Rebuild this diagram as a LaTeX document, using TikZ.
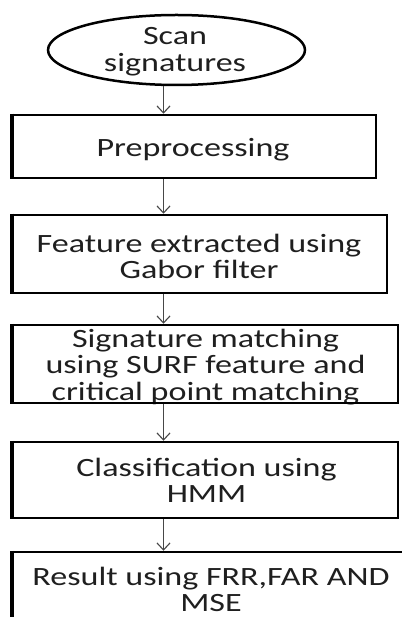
\documentclass[tikz,border=0pt]{standalone}
\usepackage{fontspec}
\usetikzlibrary{shapes.geometric,arrows.meta}
\newfontfamily\boxfont[FakeStretch=1.29]{Carlito}

\tikzset{
  stepbox/.style={draw=black, line width=2.5pt, rectangle, inner sep=0pt},
  heavyedge/.style={draw=black, line width=3.8pt},
  startoval/.style={draw=black, line width=2.5pt, ellipse, inner sep=0pt,
    minimum width=257pt, minimum height=70pt},
  boxtext/.style={font=\boxfont\fontsize{26.4}{26.5}\selectfont, align=center,
    inner sep=0pt, text=black!88},
  flow/.style={draw=black!72, line width=1.1pt,
    -{Straight Barb[length=7pt,width=13pt]}},
}

\begin{document}
\begin{tikzpicture}[x=1pt,y=-1pt]
  \useasboundingbox (0,0) rectangle (401,617);
  \fill[white] (0,0) rectangle (401,617);

  % vertical line that all connectors follow
  \coordinate (spine) at (163.5,0);

  % start oval
  \node[startoval] (scan) at (176.5,50) {};
  \node[boxtext] (scantxt) at (175,52.95) {\strut Scan\\signatures\strut};

  % process boxes
  \node[stepbox, minimum width=363pt, minimum height=63pt] (pre) at (194.5,146.5) {};
  \node[boxtext] (pretxt) at (193,151.7) {\strut Preprocessing\strut};

  \node[stepbox, minimum width=374pt, minimum height=78pt] (feat) at (200,254) {};
  \node[boxtext] (feattxt) at (199,259.95) {\strut Feature extracted using\\Gabor filter\strut};

  \node[stepbox, minimum width=385pt, minimum height=78pt] (match) at (205.5,364) {};
  \begin{scope}
    \clip (match.south west) rectangle (match.north east);
    \node[boxtext] (matchtxt) at (205.5,368.2)
      {\strut Signature matching\\using SURF feature and\\critical point matching\strut};
  \end{scope}
  \node[stepbox, minimum width=385pt, minimum height=78pt] at (match.center) {};

  \node[stepbox, minimum width=385pt, minimum height=76pt] (cls) at (205.5,480) {};
  \node[boxtext] (clstxt) at (206.5,483.95) {\strut Classification using\\HMM\strut};

  \node[stepbox, minimum width=396pt, minimum height=78pt] (res) at (211,591) {};
  \node[boxtext] (restxt) at (211,593.2) {\strut Result using FRR,FAR AND\\MSE\strut};

  % heavier left edges of the boxes
  \foreach \b in {pre,feat,match,cls,res}
    \draw[heavyedge] (\b.north west) -- (\b.south west);

  % connectors
  \draw[flow] (scan.south -| spine) -- (pre.north -| spine);
  \draw[flow] (pre.south -| spine) -- (feat.north -| spine);
  \draw[flow] (feat.south -| spine) -- (match.north -| spine);
  \draw[flow] (match.south -| spine) -- (cls.north -| spine);
  \draw[flow] (cls.south -| spine) -- (res.north -| spine);
\end{tikzpicture}
\end{document}
